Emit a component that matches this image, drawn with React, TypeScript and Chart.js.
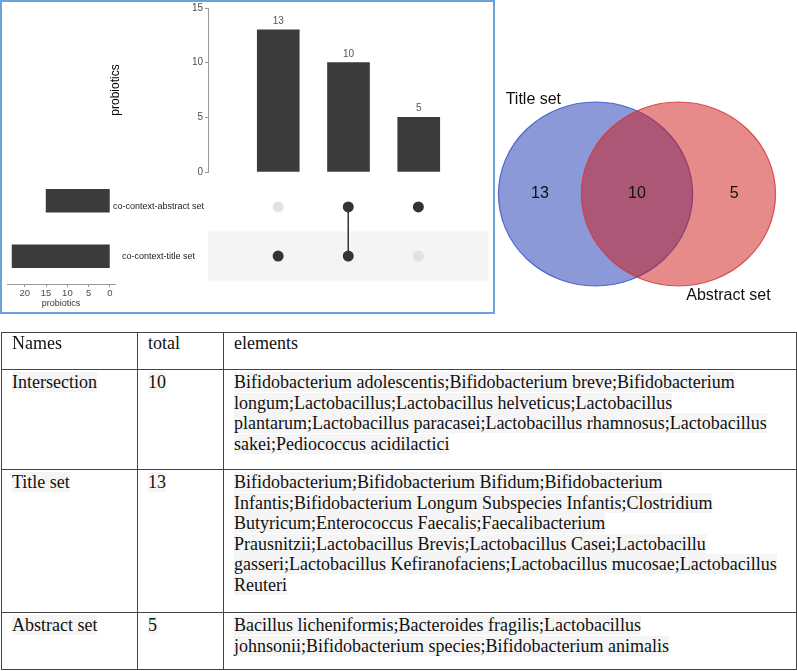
import React, { useEffect, useRef } from 'react';
import { Chart, registerables } from 'chart.js';

Chart.register(...registerables);
Chart.defaults.font.family = '"Liberation Sans", Arial, sans-serif';

// ---------------- data ----------------
const setNames = ['co-context-abstract set', 'co-context-title set'];
const setSizes = [15, 23];
const setSizeTicks = [0, 5, 10, 15, 20];
const intersectionSizes = [13, 10, 5];
// membership per intersection: [abstract, title]
const intersectionMembers = [
  [0, 1],
  [1, 1],
  [1, 0],
];
const barTicksMax = 15;
const barTickStep = 5;
const axisTitle = 'probiotics';

const vennSetNames = ['Title set', 'Abstract set'];
const vennCounts = [13, 10, 5]; // title only, both, abstract only

const tableHeader = ['Names', 'total', 'elements'];
const tableNames = ['Intersection', 'Title set', 'Abstract set'];
const tableTotals = [10, 13, 5];
const tableElementLines = [
  [
    'Bifidobacterium adolescentis;Bifidobacterium breve;Bifidobacterium',
    'longum;Lactobacillus;Lactobacillus helveticus;Lactobacillus',
    'plantarum;Lactobacillus paracasei;Lactobacillus rhamnosus;Lactobacillus',
    'sakei;Pediococcus acidilactici',
  ],
  [
    'Bifidobacterium;Bifidobacterium Bifidum;Bifidobacterium',
    'Infantis;Bifidobacterium Longum Subspecies Infantis;Clostridium',
    'Butyricum;Enterococcus Faecalis;Faecalibacterium',
    'Prausnitzii;Lactobacillus Brevis;Lactobacillus Casei;Lactobacillu',
    'gasseri;Lactobacillus Kefiranofaciens;Lactobacillus mucosae;Lactobacillus',
    'Reuteri',
  ],
  [
    'Bacillus licheniformis;Bacteroides fragilis;Lactobacillus',
    'johnsonii;Bifidobacterium species;Bifidobacterium animalis',
  ],
];

// ---------------- plugins ----------------
const valueLabelPlugin = {
  id: 'valueLabels',
  afterDatasetsDraw(chart: any) {
    const { ctx } = chart;
    const meta = chart.getDatasetMeta(0);
    ctx.save();
    ctx.font = '10px "Liberation Sans", Arial, sans-serif';
    ctx.fillStyle = '#555';
    ctx.textAlign = 'center';
    ctx.textBaseline = 'alphabetic';
    meta.data.forEach((el: any, i: number) => {
      ctx.fillText(String(intersectionSizes[i]), el.x, el.y - 6);
    });
    ctx.restore();
  },
};

const bandPlugin = {
  id: 'bands',
  beforeDatasetsDraw(chart: any) {
    const { ctx, chartArea, scales } = chart;
    const y = scales.y;
    ctx.save();
    ctx.fillStyle = '#f4f4f4';
    setNames.forEach((_, r) => {
      if (r % 2 === 1) {
        const a = y.getPixelForValue(r + 0.5);
        const b = y.getPixelForValue(r + 1.5);
        ctx.fillRect(chartArea.left, Math.min(a, b), chartArea.right - chartArea.left, Math.abs(b - a));
      }
    });
    ctx.restore();
  },
};

const VENN_OFFSET = 0.427;
const vennPlugin = {
  id: 'venn',
  beforeDatasetsDraw(chart: any) {
    const { ctx, scales } = chart;
    const { x, y } = scales;
    const circles = [
      { cx: -VENN_OFFSET, fill: 'rgba(25,52,178,0.5)', stroke: 'rgba(60,85,200,0.85)' },
      { cx: VENN_OFFSET, fill: 'rgba(205,21,21,0.5)', stroke: 'rgba(215,55,65,0.85)' },
    ];
    ctx.save();
    circles.forEach((c) => {
      const px = x.getPixelForValue(c.cx);
      const py = y.getPixelForValue(0);
      const rx = Math.abs(x.getPixelForValue(c.cx + 1) - px);
      const ry = Math.abs(y.getPixelForValue(1) - py);
      ctx.beginPath();
      ctx.ellipse(px, py, rx, ry, 0, 0, Math.PI * 2);
      ctx.fillStyle = c.fill;
      ctx.fill();
      ctx.lineWidth = 1.2;
      ctx.strokeStyle = c.stroke;
      ctx.stroke();
    });
    ctx.restore();
  },
  afterDatasetsDraw(chart: any) {
    const { ctx, scales } = chart;
    const { x, y } = scales;
    ctx.save();
    ctx.font = '16px "Liberation Sans", Arial, sans-serif';
    ctx.fillStyle = '#111';
    ctx.textAlign = 'center';
    ctx.textBaseline = 'middle';
    const cy = y.getPixelForValue(0);
    const regionX = [-1, 0, 1];
    vennCounts.forEach((v, i) => {
      ctx.fillText(String(v), x.getPixelForValue(regionX[i]), cy);
    });
    const top = y.getPixelForValue(1);
    const bottom = y.getPixelForValue(-1);
    ctx.textBaseline = 'alphabetic';
    ctx.textAlign = 'left';
    ctx.fillText(vennSetNames[0], x.getPixelForValue(-VENN_OFFSET - 0.926), top + 2);
    ctx.textAlign = 'right';
    ctx.fillText(vennSetNames[1], x.getPixelForValue(VENN_OFFSET + 0.95), bottom + 14);
    ctx.restore();
  },
};

export default function App() {
  const barRef = useRef<HTMLCanvasElement>(null);
  const matRef = useRef<HTMLCanvasElement>(null);
  const setRef = useRef<HTMLCanvasElement>(null);
  const vennRef = useRef<HTMLCanvasElement>(null);

  useEffect(() => {
    const charts: Chart[] = [];

    // Intersection size bars
    charts.push(
      new Chart(barRef.current!, {
        type: 'bar',
        data: {
          datasets: [
            {
              data: intersectionSizes.map((v, i) => ({ x: i + 1, y: v })) as any,
              backgroundColor: '#3b3b3b',
              borderWidth: 0,
              barThickness: 42,
            },
          ],
        },
        options: {
          animation: false,
          responsive: false,
          maintainAspectRatio: false,
          layout: { padding: { left: 0, right: 5, top: 7, bottom: 8 } },
          plugins: { legend: { display: false }, tooltip: { enabled: false } },
          scales: {
            x: { type: 'linear', min: 0, max: intersectionSizes.length + 1, offset: false, display: false },
            y: {
              min: 0,
              max: barTicksMax,
              afterFit: (s: any) => {
                s.width = 108;
              },
              ticks: { stepSize: barTickStep, font: { size: 10 }, color: '#4d4d4d', padding: 2 },
              grid: { drawOnChartArea: false, tickLength: 3, color: '#999' },
              border: { color: '#999' },
              title: {
                display: true,
                text: axisTitle,
                font: { size: 12 },
                color: '#000',
                padding: { top: 8, bottom: 0 },
              },
            },
          },
        } as any,
        plugins: [valueLabelPlugin],
      })
    );

    // Matrix
    const dotData: any[] = [];
    const dotColors: string[] = [];
    intersectionMembers.forEach((m, i) =>
      m.forEach((on, r) => {
        dotData.push({ x: i + 1, y: r + 1 });
        dotColors.push(on ? '#333333' : '#e2e2e2');
      })
    );
    const lineSets = intersectionMembers.map((m, i) => ({
      data: m.map((on, r) => (on ? { x: i + 1, y: r + 1 } : null)).filter(Boolean) as any[],
      showLine: true,
      borderColor: '#333333',
      borderWidth: 1.5,
      pointRadius: 0,
      order: 1,
    }));
    charts.push(
      new Chart(matRef.current!, {
        type: 'scatter',
        data: {
          datasets: [
            {
              data: dotData,
              pointRadius: 5.5,
              pointBackgroundColor: dotColors,
              pointBorderWidth: 0,
              order: 0,
            } as any,
            ...lineSets,
          ],
        },
        options: {
          animation: false,
          responsive: false,
          maintainAspectRatio: false,
          layout: { padding: { left: 0, right: 5, top: 0, bottom: 6 } },
          plugins: { legend: { display: false }, tooltip: { enabled: false } },
          scales: {
            x: { type: 'linear', min: 0, max: intersectionSizes.length + 1, offset: false, display: false },
            y: {
              type: 'linear',
              min: 0.5,
              max: setNames.length + 0.5,
              reverse: true,
              afterFit: (s: any) => {
                s.width = 98;
              },
              afterBuildTicks: (s: any) => {
                s.ticks = setNames.map((_, i) => ({ value: i + 1 }));
              },
              ticks: {
                callback: (v: any) => setNames[Math.round(Number(v)) - 1] ?? '',
                crossAlign: 'center',
                padding: 4,
                font: { size: 9 },
                color: '#222',
              },
              grid: { display: false, drawTicks: false },
              border: { display: false },
            },
          },
        } as any,
        plugins: [bandPlugin],
      })
    );

    // Set sizes
    charts.push(
      new Chart(setRef.current!, {
        type: 'bar',
        data: {
          labels: setNames,
          datasets: [{ data: setSizes, backgroundColor: '#3b3b3b', barThickness: 23, borderWidth: 0 }],
        },
        options: {
          animation: false,
          responsive: false,
          maintainAspectRatio: false,
          indexAxis: 'y',
          layout: { padding: { left: 7, right: 5, top: 0, bottom: 0 } },
          plugins: { legend: { display: false }, tooltip: { enabled: false } },
          scales: {
            y: { display: false },
            x: {
              type: 'linear',
              reverse: true,
              min: -1.2,
              max: 24.2,
              afterBuildTicks: (s: any) => {
                s.ticks = setSizeTicks.map((v) => ({ value: v }));
              },
              afterFit: (s: any) => {
                s.height = 25;
              },
              ticks: { font: { size: 9.5 }, color: '#4d4d4d', padding: 1, maxRotation: 0 },
              grid: { drawOnChartArea: false, tickLength: 3, color: '#999' },
              border: { color: '#999' },
              title: { display: true, text: axisTitle, font: { size: 9 }, color: '#333', padding: 0 },
            },
          },
        } as any,
      })
    );

    // Venn
    charts.push(
      new Chart(vennRef.current!, {
        type: 'scatter',
        data: { datasets: [{ data: [], pointRadius: 0 }] },
        options: {
          animation: false,
          responsive: false,
          maintainAspectRatio: false,
          layout: { padding: 0 },
          plugins: { legend: { display: false }, tooltip: { enabled: false } },
          scales: {
            x: { type: 'linear', min: -1.545, max: 1.545, display: false },
            y: { type: 'linear', min: -1.348, max: 1.348, display: false },
          },
        } as any,
        plugins: [vennPlugin],
      })
    );

    return () => charts.forEach((c) => c.destroy());
  }, []);

  const cellStyle: React.CSSProperties = {
    border: '1px solid #444',
    padding: '2px 4px 0 10px',
    verticalAlign: 'top',
    overflow: 'hidden',
  };
  const lineStyle: React.CSSProperties = { whiteSpace: 'nowrap' };
  const hl: React.CSSProperties = { background: '#f5f5f5' };
  const rowHeights = [100, 143, 57];

  return (
    <div style={{ position: 'absolute', left: 0, top: 0, width: 797, height: 671, background: '#fff', overflow: 'hidden' }}>
      <canvas ref={barRef} width={394} height={180} style={{ position: 'absolute', left: 100, top: 0 }} />
      <canvas ref={matRef} width={384} height={117} style={{ position: 'absolute', left: 110, top: 173 }} />
      <canvas ref={setRef} width={120} height={136} style={{ position: 'absolute', left: 0, top: 173 }} />
      <div
        style={{
          position: 'absolute',
          left: 0,
          top: 0,
          width: 495,
          height: 314,
          boxSizing: 'border-box',
          border: '2px solid #68a3dc',
          pointerEvents: 'none',
        }}
      />
      <canvas ref={vennRef} width={300} height={248} style={{ position: 'absolute', left: 487, top: 70 }} />
      <table
        style={{
          position: 'absolute',
          left: 1,
          top: 332,
          width: 796,
          borderCollapse: 'collapse',
          tableLayout: 'fixed',
          fontFamily: '"Liberation Serif", "Times New Roman", serif',
          fontSize: 18,
          lineHeight: '20.6px',
          color: '#111',
        }}
      >
        <colgroup>
          <col style={{ width: 136 }} />
          <col style={{ width: 86 }} />
          <col />
        </colgroup>
        <tbody>
          <tr style={{ height: 37 }}>
            {tableHeader.map((h) => (
              <td key={h} style={{ ...cellStyle, paddingTop: 0 }}>
                {h}
              </td>
            ))}
          </tr>
          {tableNames.map((name, i) => (
            <tr key={name} style={{ height: rowHeights[i] }}>
              <td style={cellStyle}>
                <span style={hl}>{name}</span>
              </td>
              <td style={cellStyle}>
                <span style={hl}>{tableTotals[i]}</span>
              </td>
              <td style={cellStyle}>
                {tableElementLines[i].map((ln, k) => (
                  <div key={k} style={lineStyle}>
                    <span style={hl}>{ln}</span>
                  </div>
                ))}
              </td>
            </tr>
          ))}
        </tbody>
      </table>
    </div>
  );
}
